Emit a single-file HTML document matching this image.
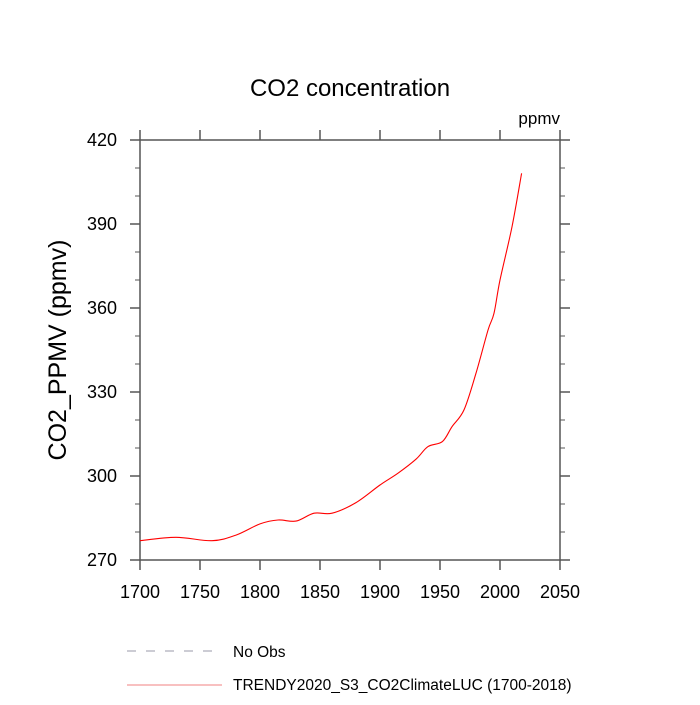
<!DOCTYPE html>
<html><head><meta charset="utf-8"><style>
body{margin:0;background:#fff}
text{font-family:"Liberation Sans",sans-serif;fill:#000}
</style></head><body>
<svg id="c" width="700" height="700" viewBox="0 0 700 700">
<text x="350" y="96" font-size="24" text-anchor="middle">CO2 concentration</text>
<text x="560" y="124" font-size="17" text-anchor="end">ppmv</text>
<text transform="translate(66,350) rotate(-90)" font-size="25" text-anchor="middle">CO2_PPMV  (ppmv)</text>
<g id="axes"></g>
<path id="line" fill="none" stroke="#ff0000" stroke-width="1.1" stroke-linejoin="round"/>
<line x1="127" y1="651" x2="222" y2="651" stroke="#99a" stroke-width="1" stroke-dasharray="9,10"/>
<text x="233" y="657" font-size="15.5">No Obs</text>
<line x1="127" y1="685" x2="222" y2="685" stroke="#f08080" stroke-width="1"/>
<text x="233" y="690" font-size="15.5">TRENDY2020_S3_CO2ClimateLUC (1700-2018)</text>
</svg>
<script>
const years=[1700,1730,1760,1780,1800,1815,1830,1845,1860,1880,1900,1915,1930,1940,1952,1960,1970,1980,1990,1995,2000,2010,2018];
const co2=[276.9,278.1,276.9,278.9,282.9,284.3,283.9,286.7,286.7,290.5,296.8,301,306,310.5,312.3,317.6,323.6,336.7,352.1,358.1,370,389,408.1];
const xTicks=[1700,1750,1800,1850,1900,1950,2000,2050];
const yTicks=[270,300,330,360,390,420];
const L=140,R=560,T=140,B=560;
const xs=v=>L+(v-1700)/350*(R-L);
const ys=v=>B-(v-270)/150*(B-T);
const ns="http://www.w3.org/2000/svg";
const g=document.getElementById('axes');
function ln(x1,y1,x2,y2,w,name){const e=document.createElementNS(ns,'line');
e.setAttribute('x1',x1);e.setAttribute('y1',y1);e.setAttribute('x2',x2);e.setAttribute('y2',y2);
e.setAttribute('stroke','#555');e.setAttribute('stroke-width',w);


g.appendChild(e);}
function tx(x,y,s,anchor,name){const e=document.createElementNS(ns,'text');
e.setAttribute('x',x);e.setAttribute('y',y);e.setAttribute('font-size',18);e.setAttribute('text-anchor',anchor);e.textContent=s;


g.appendChild(e);}
const r=document.createElementNS(ns,'rect');
r.setAttribute('x',L);r.setAttribute('y',T);r.setAttribute('width',R-L);r.setAttribute('height',B-T);
r.setAttribute('fill','none');r.setAttribute('stroke','#555');r.setAttribute('stroke-width',1.5);


g.appendChild(r);
xTicks.forEach(v=>{const x=xs(v);ln(x,B,x,B+10,1.5,'x-tick');ln(x,T,x,T-10,1.5,'x-tick-top');tx(x,B+38,String(v),'middle','x-tick-label');});
for(let v=270;v<=420;v+=10){const y=ys(v);const maj=yTicks.includes(v);const l=maj?10:5;
ln(L-l,y,L,y,maj?1.5:1,'y-tick');ln(R,y,R+l,y,maj?1.5:1,'y-tick-right');}
yTicks.forEach(v=>tx(L-23,ys(v)+6,String(v),'end','y-tick-label'));
// smooth path (Catmull-Rom)
const P=years.map((y,i)=>[xs(y),ys(co2[i])]);
let d='M'+P[0][0].toFixed(1)+','+P[0][1].toFixed(1);
for(let i=0;i<P.length-1;i++){const p0=P[Math.max(0,i-1)],p1=P[i],p2=P[i+1],p3=P[Math.min(P.length-1,i+2)];
const c1=[p1[0]+(p2[0]-p0[0])/6,p1[1]+(p2[1]-p0[1])/6],c2=[p2[0]-(p3[0]-p1[0])/6,p2[1]-(p3[1]-p1[1])/6];
d+='C'+c1.map(n=>n.toFixed(1)).join(',')+' '+c2.map(n=>n.toFixed(1)).join(',')+' '+p2.map(n=>n.toFixed(1)).join(',');}
document.getElementById('line').setAttribute('d',d);
</script>
</body></html>
